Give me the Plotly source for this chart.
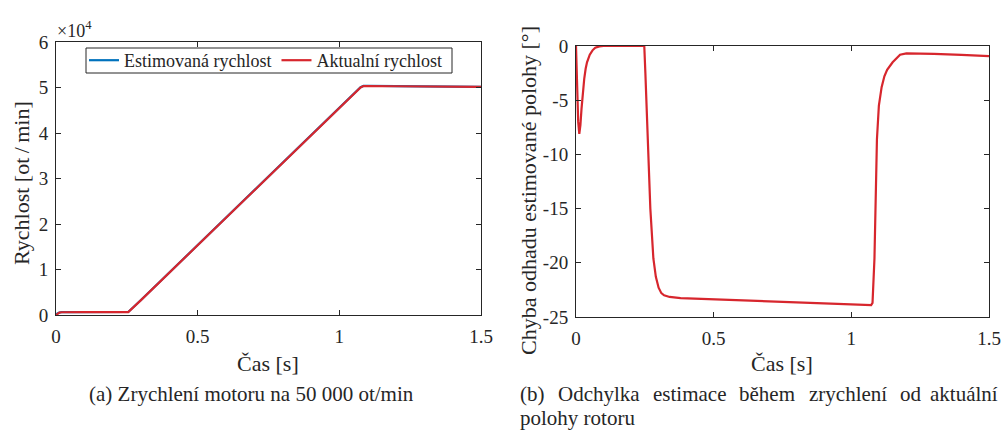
import plotly.graph_objects as go

# ---- data: (a) speed ----
t_speed = [0, 0.005, 0.012, 0.02, 0.05, 0.1, 0.2, 0.255, 0.3, 0.5, 0.7, 0.9, 1.0, 1.06, 1.075, 1.085, 1.1, 1.2, 1.3, 1.4, 1.5]
speed_est = [0, 350, 550, 620, 650, 650, 650, 660, 3300, 15360, 27400, 39450, 45480, 49100, 50050, 50350, 50380, 50320, 50260, 50200, 50150]
speed_act = [0, 300, 520, 600, 640, 645, 645, 650, 3280, 15340, 27380, 39430, 45460, 49080, 50000, 50300, 50330, 50280, 50220, 50170, 50120]

# ---- data: (b) position error ----
t_err = [0, 0.004, 0.008, 0.012, 0.016, 0.02, 0.025, 0.03, 0.035, 0.04, 0.05, 0.06, 0.07, 0.085, 0.1,
         0.248, 0.252, 0.256, 0.262, 0.27, 0.281, 0.29, 0.30, 0.31, 0.32, 0.34, 0.38, 0.5, 0.7, 0.9,
         1.072, 1.077, 1.084, 1.093, 1.10, 1.11, 1.12, 1.13, 1.15, 1.177, 1.2, 1.25, 1.3, 1.4, 1.5]
err = [0, -3.5, -7.0, -8.1, -7.3, -5.8, -4.2, -3.0, -2.1, -1.5, -0.8, -0.4, -0.15, -0.03, 0,
       0, -2.5, -5.0, -10.0, -15.0, -19.6, -21.3, -22.3, -22.8, -23.0, -23.15, -23.25, -23.35, -23.55, -23.75,
       -23.9, -23.7, -19.6, -8.6, -5.5, -3.8, -2.8, -2.2, -1.5, -0.8, -0.68, -0.68, -0.72, -0.82, -0.93]

x_ticks = [0, 0.5, 1, 1.5]
x_ticklabels = ["0", "0.5", "1", "1.5"]
ya_ticks = [0, 10000, 20000, 30000, 40000, 50000, 60000]
ya_ticklabels = ["0", "1", "2", "3", "4", "5", "6"]
yb_ticks = [0, -5, -10, -15, -20, -25]
yb_ticklabels = ["0", "-5", "-10", "-15", "-20", "-25"]

BLUE = "#0072BD"
RED = "#D7262D"
TXT = "#262626"
FONT = "Tinos"
W, H = 1003, 431

fig = go.Figure()
fig.add_trace(go.Scatter(x=t_speed, y=speed_est, mode="lines", name="Estimovaná rychlost",
                         line=dict(color=BLUE, width=2.2), xaxis="x", yaxis="y"))
fig.add_trace(go.Scatter(x=t_speed, y=speed_act, mode="lines", name="Aktualní rychlost",
                         line=dict(color=RED, width=2.2), xaxis="x", yaxis="y"))
fig.add_trace(go.Scatter(x=t_err, y=err, mode="lines", showlegend=False,
                         line=dict(color=RED, width=2.2), xaxis="x2", yaxis="y2"))

def px_x(p):
    return p / W

def px_y(p):
    return 1 - p / H

axis_common = dict(showline=True, linecolor=TXT, linewidth=1, mirror="ticks", ticks="inside",
                   ticklen=5, tickcolor=TXT, showgrid=False, zeroline=False, automargin=False,
                   tickfont=dict(family=FONT, size=19))

fig.update_layout(
    width=W, height=H, margin=dict(l=0, r=0, t=0, b=0, autoexpand=False),
    paper_bgcolor="white", plot_bgcolor="white",
    font=dict(family=FONT, color=TXT),
    xaxis=dict(domain=[px_x(56), px_x(481)], range=[0, 1.5], anchor="y",
               tickvals=x_ticks, ticktext=x_ticklabels, ticklabelstandoff=4, **axis_common),
    yaxis=dict(domain=[px_y(315), px_y(42)], range=[0, 60000], anchor="x",
               tickvals=ya_ticks, ticktext=ya_ticklabels, ticklabelstandoff=3, **axis_common),
    xaxis2=dict(domain=[px_x(576), px_x(989)], range=[0, 1.5], anchor="y2",
                tickvals=x_ticks, ticktext=x_ticklabels, ticklabelstandoff=4, **axis_common),
    yaxis2=dict(domain=[px_y(317), px_y(46)], range=[-25, 0], anchor="x2",
                tickvals=yb_ticks, ticktext=yb_ticklabels, ticklabelstandoff=3, **axis_common),
    legend=dict(x=px_x(84), y=px_y(60.5), xanchor="left", yanchor="middle", orientation="h",
                borderwidth=0, bgcolor="rgba(0,0,0,0)",
                font=dict(family=FONT, size=18), itemwidth=30),
)

# legend frame
fig.add_shape(type="rect", xref="paper", yref="paper",
              x0=px_x(86), x1=px_x(452), y0=px_y(73), y1=px_y(48),
              line=dict(color=TXT, width=1), fillcolor="white", layer="below")

def ann(text, x, y, size=18, xanchor="center", yanchor="middle", angle=0):
    fig.add_annotation(text=text, x=px_x(x), y=px_y(y), xref="paper", yref="paper",
                       showarrow=False, xanchor=xanchor, yanchor=yanchor, textangle=angle,
                       font=dict(family=FONT, size=size))

ann("×10<sup>4</sup>", 55, 29, size=18, xanchor="left")
ann("Rychlost [ot\u2009/\u2009min]", 21, 183, size=22, angle=-90)
ann("Chyba odhadu estimované polohy [°]", 528, 191, size=22, angle=-90)
ann("Čas [s]", 268, 363, size=22)
ann("Čas [s]", 782, 363, size=22)
ann("(a) Zrychlení motoru na 50 000 ot/min", 251, 394, size=21)

# justified first caption line of (b): word widths from Times metrics (per 1000 em)
words_b = ["(b)", "Odchylka", "estimace", "během", "zrychlení", "od", "aktuální"]
word_w_em = [1166, 3888, 3499, 2666, 3721, 1000, 3222]
CAP_SIZE = 21
left_b, right_b = 518, 1000
widths = [w * CAP_SIZE / 1000 for w in word_w_em]
gap = (right_b - left_b - sum(widths)) / (len(words_b) - 1)
xpos = left_b
for i, (w, ww) in enumerate(zip(words_b, widths)):
    if i == len(words_b) - 1:
        ann(w, right_b, 394, size=CAP_SIZE, xanchor="right")
    else:
        ann(w, xpos, 394, size=CAP_SIZE, xanchor="left")
    xpos += ww + gap
ann("polohy rotoru", 518, 418, size=CAP_SIZE, xanchor="left")

post = """
var gd = document.getElementById('{plot_id}');
function again() { try { Plotly.redraw(gd); } catch (e) {} }
if (document.fonts && document.fonts.ready) { document.fonts.ready.then(again); }
setTimeout(again, 30);
"""
fig.write_html("out.html", post_script=post)
